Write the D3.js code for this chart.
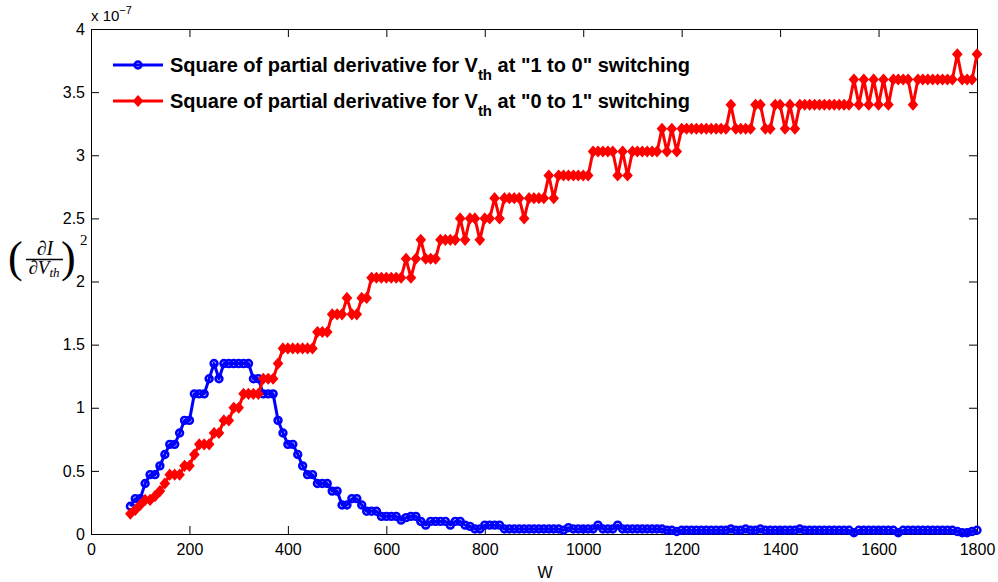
<!DOCTYPE html>
<html>
<head>
<meta charset="utf-8">
<script src="https://cdn.jsdelivr.net/npm/d3@7"></script>
<style>
  body { margin: 0; background: #fff; }
  svg { display: block; font-family: "Liberation Sans", Arial, sans-serif; }
</style>
</head>
<body>
<div id="chart"></div>
<script>
// W values (x), sampled every 10 from 80 to 1800
var widths = d3.range(80, 1801, 10);

// Square of partial derivative, in units of 1e-7
// "1 to 0" switching (blue)
var fallValues = [
  0.22,0.28,0.28,0.40,0.47,0.47,0.54,0.63,0.71,0.71,
  0.80,0.90,0.90,1.11,1.11,1.11,1.23,1.35,1.23,1.35,
  1.35,1.35,1.35,1.35,1.35,1.23,1.23,1.11,1.11,1.11,
  0.90,0.80,0.71,0.71,0.63,0.54,0.47,0.47,0.40,0.40,
  0.40,0.34,0.34,0.23,0.23,0.28,0.28,0.23,0.18,0.18,
  0.18,0.14,0.14,0.14,0.14,0.11,0.13,0.14,0.14,0.10,
  0.07,0.10,0.10,0.10,0.10,0.07,0.10,0.10,0.07,0.06,
  0.04,0.04,0.07,0.07,0.07,0.07,0.04,0.04,0.04,0.04,
  0.04,0.04,0.04,0.04,0.04,0.04,0.04,0.04,0.03,0.05,
  0.04,0.04,0.04,0.04,0.04,0.07,0.04,0.04,0.04,0.07,
  0.04,0.04,0.04,0.04,0.04,0.04,0.04,0.04,0.04,0.03,
  0.03,0.02,0.03,0.03,0.03,0.03,0.03,0.03,0.03,0.03,
  0.03,0.03,0.04,0.03,0.03,0.04,0.03,0.03,0.04,0.03,
  0.03,0.03,0.03,0.03,0.03,0.03,0.04,0.03,0.03,0.03,
  0.03,0.03,0.03,0.03,0.03,0.03,0.03,0.01,0.03,0.03,
  0.03,0.03,0.03,0.03,0.03,0.03,0.01,0.03,0.03,0.03,
  0.03,0.03,0.03,0.03,0.03,0.03,0.03,0.03,0.02,0.01,
  0.01,0.02,0.03
];

// "0 to 1" switching (red)
var riseValues = [
  0.16,0.19,0.23,0.27,0.27,0.30,0.34,0.40,0.47,0.47,
  0.47,0.54,0.54,0.63,0.71,0.71,0.71,0.80,0.80,0.90,
  0.90,1.00,1.00,1.11,1.11,1.11,1.11,1.23,1.23,1.23,
  1.35,1.47,1.47,1.47,1.47,1.47,1.47,1.47,1.60,1.60,
  1.60,1.74,1.74,1.74,1.87,1.74,1.74,1.87,1.87,2.03,
  2.03,2.03,2.03,2.03,2.03,2.03,2.18,2.03,2.18,2.33,
  2.18,2.18,2.18,2.33,2.33,2.33,2.33,2.50,2.33,2.50,
  2.50,2.33,2.50,2.50,2.66,2.50,2.66,2.66,2.66,2.66,
  2.50,2.66,2.66,2.66,2.66,2.84,2.66,2.84,2.84,2.84,
  2.84,2.84,2.84,2.84,3.03,3.03,3.03,3.03,3.03,2.84,
  3.03,2.84,3.03,3.03,3.03,3.03,3.03,3.03,3.21,3.03,
  3.21,3.03,3.21,3.21,3.21,3.21,3.21,3.21,3.21,3.21,
  3.21,3.21,3.40,3.21,3.21,3.21,3.21,3.40,3.40,3.21,
  3.21,3.40,3.40,3.21,3.40,3.21,3.40,3.40,3.40,3.40,
  3.40,3.40,3.40,3.40,3.40,3.40,3.40,3.60,3.40,3.60,
  3.40,3.60,3.40,3.60,3.40,3.60,3.60,3.60,3.60,3.40,
  3.60,3.60,3.60,3.60,3.60,3.60,3.60,3.60,3.80,3.60,
  3.60,3.60,3.80
];

var xTicks = [0, 200, 400, 600, 800, 1000, 1200, 1400, 1600, 1800];
var yTicks = [0, 0.5, 1, 1.5, 2, 2.5, 3, 3.5, 4];
var yTickLabels = ["0", "0.5", "1", "1.5", "2", "2.5", "3", "3.5", "4"];

var legendLabels = [
  {pre: "Square of partial derivative for V", sub: "th", post: " at \"1 to 0\" switching"},
  {pre: "Square of partial derivative for V", sub: "th", post: " at \"0 to 1\" switching"}
];
var seriesColors = ["#0000ff", "#ff0000"];

var svgWidth = 998;
var svgHeight = 582;
var margin = {top: 29, right: 21, bottom: 48, left: 91};
var chartWidth = svgWidth - margin.left - margin.right;
var chartHeight = svgHeight - margin.top - margin.bottom;

var svg = d3.select("#chart").append("svg")
  .attr("width", svgWidth)
  .attr("height", svgHeight);

var chartGroup = svg.append("g")
  .attr("transform", `translate(${margin.left}, ${margin.top})`);

var xScale = d3.scaleLinear().domain([0, 1800]).range([0, chartWidth]);
var yScale = d3.scaleLinear().domain([0, 4]).range([chartHeight, 0]);

// axes, ticks pointing inward on all four sides
function styleAxis(g) {
  g.attr("font-size", 16).attr("font-family", "\"Liberation Sans\", Arial, sans-serif");
  g.select(".domain").attr("stroke", "#000").attr("stroke-width", 1);
  g.selectAll(".tick line").attr("stroke", "#000").attr("stroke-width", 1);
  g.selectAll(".tick text").attr("fill", "#000");
}

chartGroup.append("g")
  .attr("transform", `translate(0, ${chartHeight})`)
  .call(d3.axisBottom(xScale).tickValues(xTicks).tickFormat(d3.format("d"))
    .tickSizeInner(-8).tickSizeOuter(0).tickPadding(10))
  .call(styleAxis);

chartGroup.append("g")
  .call(d3.axisTop(xScale).tickValues(xTicks).tickFormat("")
    .tickSizeInner(-8).tickSizeOuter(0))
  .call(styleAxis);

chartGroup.append("g")
  .call(d3.axisLeft(yScale).tickValues(yTicks).tickFormat((d, i) => yTickLabels[i])
    .tickSizeInner(-8).tickSizeOuter(0).tickPadding(6))
  .call(styleAxis);

chartGroup.append("g")
  .attr("transform", `translate(${chartWidth}, 0)`)
  .call(d3.axisRight(yScale).tickValues(yTicks).tickFormat("")
    .tickSizeInner(-8).tickSizeOuter(0))
  .call(styleAxis);

// series
var fallData = widths.map((w, i) => ({w: w, v: fallValues[i]}));
var riseData = widths.map((w, i) => ({w: w, v: riseValues[i]}));

var line = d3.line()
  .x(d => xScale(d.w))
  .y(d => yScale(d.v));

var diamond = "M0,-5L4.4,0L0,5L-4.4,0Z";

chartGroup.append("path")
  .datum(fallData)
  .attr("fill", "none")
  .attr("stroke", seriesColors[0])
  .attr("stroke-width", 3)
  .attr("stroke-linejoin", "round")
  .attr("d", line);

chartGroup.append("g").selectAll("circle")
  .data(fallData)
  .enter()
  .append("circle")
  .attr("cx", d => xScale(d.w))
  .attr("cy", d => yScale(d.v))
  .attr("r", 3.4)
  .attr("fill", "none")
  .attr("stroke", seriesColors[0])
  .attr("stroke-width", 2.6);

chartGroup.append("path")
  .datum(riseData)
  .attr("fill", "none")
  .attr("stroke", seriesColors[1])
  .attr("stroke-width", 3)
  .attr("stroke-linejoin", "round")
  .attr("d", line);

chartGroup.append("g").selectAll("path")
  .data(riseData)
  .enter()
  .append("path")
  .attr("transform", d => `translate(${xScale(d.w)}, ${yScale(d.v)})`)
  .attr("d", diamond)
  .attr("fill", seriesColors[1])
  .attr("stroke", seriesColors[1])
  .attr("stroke-width", 1.4);

// legend (no box)
var legend = svg.append("g");
legendLabels.forEach(function(lab, i) {
  var y = 65 + i * 36;
  legend.append("line")
    .attr("x1", 113).attr("x2", 163).attr("y1", y).attr("y2", y)
    .attr("stroke", seriesColors[i]).attr("stroke-width", 3);
  if (i === 0) {
    legend.append("circle").attr("cx", 138).attr("cy", y).attr("r", 3.4)
      .attr("fill", "none").attr("stroke", seriesColors[i]).attr("stroke-width", 2.6);
  } else {
    legend.append("path").attr("transform", `translate(138, ${y})`).attr("d", diamond)
      .attr("fill", seriesColors[i]).attr("stroke", seriesColors[i]).attr("stroke-width", 1.4);
  }
  var t = legend.append("text")
    .attr("x", 170).attr("y", y + 6.5)
    .attr("font-size", 20).attr("font-weight", "bold").attr("fill", "#000");
  t.append("tspan").text(lab.pre);
  t.append("tspan").attr("dy", 8).attr("font-size", 15).text(lab.sub);
  t.append("tspan").attr("dy", -8).text(lab.post);
});

// exponent label
var expo = svg.append("text").attr("x", 91).attr("y", 21).attr("font-size", 15).attr("fill", "#000");
expo.append("tspan").text("x 10");
expo.append("tspan").attr("dy", -7).attr("font-size", 11).text("\u22127");

// x label
svg.append("text")
  .attr("x", 545).attr("y", 578)
  .attr("text-anchor", "middle")
  .attr("font-size", 16)
  .attr("fill", "#000")
  .text("W");

// y label: (dI / dV_th)^2
var yl = svg.append("g").attr("font-family", "\"Liberation Serif\", \"DejaVu Serif\", serif").attr("fill", "#000");
yl.append("text").attr("x", 8).attr("y", 272).attr("font-size", 44).text("(");
yl.append("text").attr("x", 61).attr("y", 272).attr("font-size", 44).text(")");
yl.append("text").attr("x", 45).attr("y", 255).attr("text-anchor", "middle")
  .attr("font-size", 20).attr("font-style", "italic").text("\u2202I");
yl.append("line").attr("x1", 26).attr("x2", 63).attr("y1", 259.5).attr("y2", 259.5)
  .attr("stroke", "#000").attr("stroke-width", 1.3);
var den = yl.append("text").attr("x", 44).attr("y", 274).attr("text-anchor", "middle")
  .attr("font-size", 19).attr("font-style", "italic");
den.append("tspan").text("\u2202V");
den.append("tspan").attr("dy", 3).attr("font-size", 13).text("th");
yl.append("text").attr("x", 80).attr("y", 245).attr("font-size", 15).text("2");
</script>
</body>
</html>
